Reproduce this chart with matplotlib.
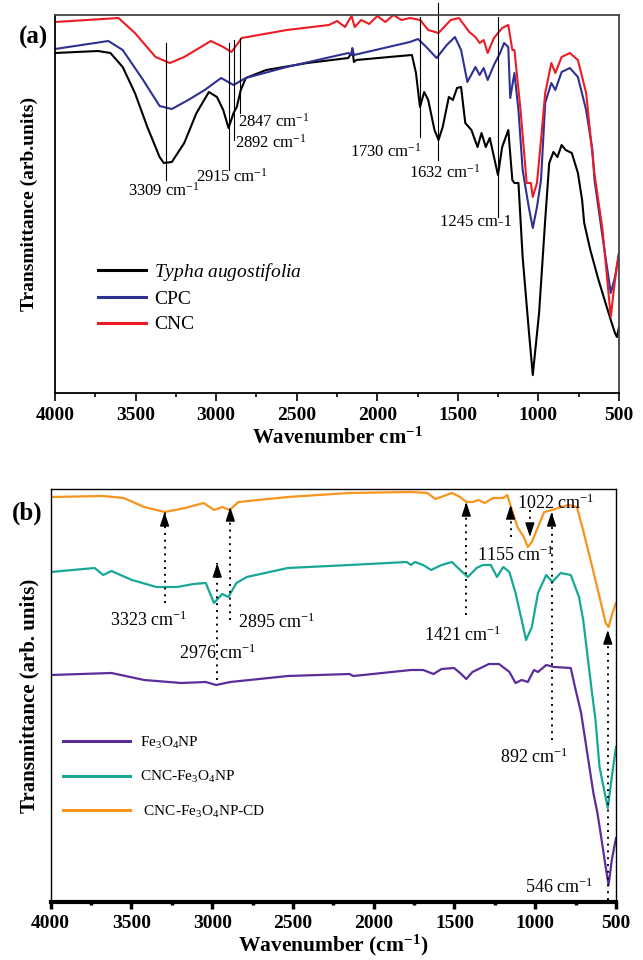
import matplotlib
matplotlib.use("Agg")
import matplotlib.pyplot as plt
from matplotlib.ticker import MultipleLocator

plt.rcParams['font.family'] = ['Liberation Serif', 'DejaVu Serif']
plt.rcParams['mathtext.fontset'] = 'custom'
plt.rcParams['mathtext.rm'] = 'Liberation Serif'
plt.rcParams['mathtext.it'] = 'Liberation Serif:italic'
plt.rcParams['mathtext.bf'] = 'Liberation Serif:bold'

# ---------------- Panel (a) data (wavenumber, transmittance a.u.) ----------------
typha_wn = [4000, 3733, 3656, 3580, 3504, 3427, 3351, 3325, 3275, 3198, 3122, 3045, 2995,
            2956, 2923, 2892, 2872, 2847, 2816, 2689, 2434, 2180, 2160, 2155, 2145, 2129,
            1926, 1785, 1760, 1735, 1709, 1684, 1645, 1620, 1594, 1556, 1531, 1505, 1480,
            1454, 1416, 1378, 1353, 1327, 1302, 1251, 1225, 1187, 1162, 1149, 1124, 1098,
            1060, 1035, 996, 958, 933, 907, 882, 856, 831, 793, 755, 729, 716, 678, 627,
            576, 551, 525, 513, 500]
typha_t = [340, 342, 340, 326, 300, 266, 236, 230, 231, 250, 280, 301, 296,
           283, 265, 280, 286, 303, 315, 323, 330, 335, 340, 344, 331, 333,
           336, 338, 320, 286, 301, 293, 263, 253, 266, 296, 293, 305, 306,
           270, 263, 246, 260, 246, 255, 218, 246, 263, 213, 210, 210, 136,
           63, 18, 80, 173, 230, 241, 236, 248, 243, 240, 220, 193, 170, 143, 113,
           86, 73, 60, 56, 66]

cpc_wn = [4000, 3669, 3580, 3453, 3351, 3275, 3173, 3071, 2969, 2892, 2816, 2562, 2180,
          2160, 2155, 2145, 1798, 1747, 1696, 1632, 1569, 1518, 1480, 1441, 1391, 1365,
          1340, 1315, 1276, 1238, 1213, 1187, 1175, 1149, 1124, 1098, 1060, 1035, 1009,
          984, 958, 920, 895, 856, 805, 755, 704, 665, 652, 602, 551, 525, 500]
cpc_t = [344, 352, 343, 313, 287, 284, 293, 303, 315, 308, 315, 326, 340,
         338, 345, 338, 351, 354, 346, 335, 348, 356, 343, 311, 326, 318,
         325, 313, 328, 340, 350, 346, 295, 320, 283, 223, 186, 165, 186,
         213, 290, 310, 303, 321, 325, 316, 283, 243, 213, 156, 100, 116, 140]

cnc_wn = [4000, 3606, 3504, 3376, 3287, 3198, 3033, 2956, 2905, 2841, 2562, 2300, 2250,
          2200, 2160, 2140, 2100, 2050, 2000, 1950, 1900, 1850, 1798, 1734, 1684, 1620,
          1544, 1493, 1429, 1391, 1365, 1340, 1315, 1276, 1225, 1187, 1162, 1149, 1111,
          1073, 1047, 1035, 1009, 984, 958, 920, 895, 856, 805, 755, 704, 653, 602, 551,
          525, 500]
cnc_t = [371, 375, 360, 336, 330, 336, 352, 346, 341, 355, 363, 368, 372,
         366, 377, 366, 373, 369, 377, 371, 378, 373, 375, 373, 363, 360,
         373, 375, 361, 356, 350, 353, 340, 355, 365, 368, 343, 343, 283,
         210, 210, 196, 210, 253, 300, 330, 320, 336, 340, 333, 300, 220, 163, 76,
         113, 140]

# Panel (a) annotations
a_ann_labels = [r"3309 cm$^{-1}$", r"2915 cm$^{-1}$", r"2892 cm$^{-1}$", r"2847 cm$^{-1}$",
                r"1730 cm$^{\mathregular{-1}}$", r"1632 cm$^{\mathregular{-1}}$", "1245 cm-1"]
a_ann_wn = [3309, 2920, 2892, 2849, 1735, 1625, 1251]
a_ann_top = [350, 350, 353, 355, 376, 390, 376]
a_ann_bot = [213, 223, 253, 280, 256, 233, 176]
a_txt_x = [3324, 2905, 2882, 2862, 1722, 1582, 1162]
a_txt_y = [202, 216, 250, 271, 241, 220, 171]
a_txt_ha = ['center', 'center', 'left', 'left', 'right', 'center', 'right']

# ---------------- Panel (b) data ----------------
fe_wn = [4000, 3624, 3421, 3192, 3040, 2976, 2888, 2532, 2151, 2126, 1770, 1694, 1630,
         1580, 1503, 1465, 1427, 1389, 1287, 1224, 1160, 1122, 1084, 1046, 1008, 983,
         932, 881, 780, 754, 716, 678, 640, 615, 589, 564, 546, 526, 500]
fe_t = [227, 229, 222, 219, 220, 217, 220, 226, 228, 226, 232, 232, 228,
        233, 234, 229, 223, 230, 238, 238, 230, 219, 222, 220, 232, 230,
        237, 235, 234, 215, 189, 149, 109, 89, 62, 35, 17, 42, 64]

cncfe_wn = [4000, 3728, 3675, 3624, 3497, 3345, 3218, 3116, 3040, 2989, 2938, 2900, 2850,
            2786, 2532, 2151, 1795, 1770, 1745, 1694, 1645, 1580, 1516, 1465, 1417, 1363,
            1325, 1275, 1237, 1198, 1160, 1122, 1084, 1057, 1021, 983, 932, 894, 843, 780,
            729, 703, 653, 627, 602, 577, 551, 526, 500]
cncfe_t = [330, 334, 327, 331, 322, 315, 315, 318, 319, 299, 308, 305, 319,
           325, 334, 337, 340, 337, 340, 337, 332, 337, 340, 332, 325, 334,
           337, 337, 325, 335, 330, 309, 282, 262, 275, 309, 327, 320, 329, 327,
           305, 282, 215, 182, 135, 115, 94, 125, 155]

cd_wn = [4000, 3675, 3548, 3421, 3294, 3167, 3053, 2989, 2938, 2893, 2837, 2532, 2151,
         1770, 1668, 1618, 1515, 1465, 1427, 1389, 1351, 1313, 1262, 1198, 1173, 1148,
         1110, 1071, 1046, 1021, 983, 945, 894, 843, 793, 742, 704, 653, 602, 564, 546,
         520, 500]
cd_t = [405, 406, 404, 395, 390, 394, 399, 392, 395, 392, 400, 405, 409,
        410, 409, 403, 409, 405, 400, 400, 402, 399, 404, 404, 407, 394,
        375, 365, 355, 360, 375, 390, 392, 395, 397, 395, 372, 339, 305, 279, 275,
        290, 299]

# Panel (b) annotations
b_ann_labels = [r"3323 cm$^{-1}$", r"2895 cm$^{-1}$", r"2976 cm$^{-1}$", r"1421 cm$^{-1}$",
                r"1155 cm$^{-1}$", r"1022 cm$^{-1}$", r"892 cm$^{-1}$", r"546 cm$^{-1}$"]
b_arrow_x = [3295, 2888, 2969, 1427, 1153, 1033, 899, 551]
b_arrow_tip = [390, 395, 339, 400, 397, 365, 390, 272]
b_arrow_tail = [299, 282, 222, 287, 365, 392, 162, 2]
b_txt_x = [3395, 2842, 2964, 1447, 1122, 875, 1008, 850]
b_txt_y = [282, 280, 249, 267, 347, 399, 145, 15]
b_txt_ha = ['center', 'left', 'center', 'center', 'center', 'center', 'center', 'center']

x_ticks = [4000, 3500, 3000, 2500, 2000, 1500, 1000, 500]

W, H = 643, 960
fig = plt.figure(figsize=(W / 100, H / 100), dpi=100)

def rect(l, t, r, b):
    return [l / W, 1 - b / H, (r - l) / W, (b - t) / H]

# ---------------- Panel (a) ----------------
ax = fig.add_axes(rect(55, 15, 619, 393))
ax.plot(typha_wn, typha_t, color='black', lw=1.5, label=r"$\mathit{Typha\ augostifolia}$")
ax.plot(cpc_wn, cpc_t, color='#2E3192', lw=1.5, label='CPC')
ax.plot(cnc_wn, cnc_t, color='#ED1C24', lw=1.5, label='CNC')
ax.set_xlim(4000, 500)
ax.set_ylim(0, 378)
ax.set_yticks([])
ax.set_xticks(x_ticks)
ax.xaxis.set_minor_locator(MultipleLocator(250))
ax.tick_params(axis='x', which='major', direction='out', length=6, width=1.2, labelsize=14, pad=4)
ax.tick_params(axis='x', which='minor', direction='out', length=3, width=1.2)
for lab in ax.get_xticklabels():
    lab.set_fontweight('bold')
for s in ['left', 'bottom']:
    ax.spines[s].set_linewidth(1.3)
    ax.spines[s].set_color('black')
for s in ['top', 'right']:
    ax.spines[s].set_linewidth(1.3)
    ax.spines[s].set_color('#444444')
for lbl, wn, t0, t1, tx, ty, ha in zip(a_ann_labels, a_ann_wn, a_ann_top, a_ann_bot,
                                         a_txt_x, a_txt_y, a_txt_ha):
    ax.plot([wn, wn], [t0, t1], color='black', lw=0.8, clip_on=False)
    ax.text(tx, ty, lbl, ha=ha, va='center', fontsize=12)
ax.set_xlabel(r"Wavenumber cm$^{\mathbf{-1}}$", fontsize=15, fontweight='bold', labelpad=3)
ax.set_ylabel("Transmittance (arb.units)", fontsize=14, fontweight='bold', labelpad=12)
leg = ax.legend(loc='upper left', bbox_to_anchor=(0.076, 0.35), frameon=False, fontsize=14,
                handlelength=2.5, handletextpad=0.4, labelspacing=0.4, borderpad=0,
                borderaxespad=0)
for ln in leg.get_lines():
    ln.set_linewidth(2.2)
fig.text(33 / W, 1 - 37 / H, "(a)", fontsize=18, fontweight='bold', ha='center', va='center')

# ---------------- Panel (b) ----------------
bx = fig.add_axes(rect(50.7, 489, 616, 902))
bx.plot(fe_wn, fe_t, color='#5B2D9B', lw=1.6, label=r"Fe$_3$O$_4$NP")
bx.plot(cncfe_wn, cncfe_t, color='#17A797', lw=1.6, label=r"CNC-Fe$_3$O$_4$NP")
bx.plot(cd_wn, cd_t, color='#F7941D', lw=1.6, label=r" CNC-Fe$_3$O$_4$NP-CD")
bx.set_xlim(4000, 500)
bx.set_ylim(0, 413)
bx.set_yticks([])
bx.set_xticks(x_ticks)
bx.xaxis.set_minor_locator(MultipleLocator(250))
bx.tick_params(axis='x', which='major', direction='out', length=5, width=2.5, labelsize=14, pad=4)
bx.tick_params(axis='x', which='minor', direction='out', length=2.5, width=2.5)
for lab in bx.get_xticklabels():
    lab.set_fontweight('bold')
for s in ['left', 'top', 'right']:
    bx.spines[s].set_linewidth(1.0)
bx.spines['bottom'].set_linewidth(3.0)
for lbl, xa, tip, tail, tx, ty, ha in zip(b_ann_labels, b_arrow_x, b_arrow_tip, b_arrow_tail,
                                          b_txt_x, b_txt_y, b_txt_ha):
    # dotted shaft
    bx.plot([xa, xa], [tail, tip], color='black', lw=1.4, linestyle=(0, (1, 2.5)))
    # solid filled head
    direction = 1 if tip > tail else -1
    bx.annotate('', xy=(xa, tip), xytext=(xa, tip - direction * 6),
                arrowprops=dict(arrowstyle='-|>,head_width=0.28,head_length=0.85',
                                color='black', lw=1.0, shrinkA=0, shrinkB=0))
    bx.text(tx, ty, lbl, ha=ha, va='center', fontsize=13)
bx.set_xlabel(r"Wavenumber (cm$^{\mathbf{-1}}$)", fontsize=15.5, fontweight='bold', labelpad=1)
bx.set_ylabel("Transmittance (arb. units)", fontsize=15, fontweight='bold', labelpad=8)
leg2 = bx.legend(loc='upper left', bbox_to_anchor=(0.022, 0.405), frameon=False, fontsize=11,
                 handlelength=4.4, handletextpad=0.6, labelspacing=1.2, borderpad=0,
                 borderaxespad=0)
for ln in leg2.get_lines():
    ln.set_linewidth(2.2)
fig.text(27 / W, 1 - 513 / H, "(b)", fontsize=18, fontweight='bold', ha='center', va='center')

fig.savefig("out.png", dpi=100)
